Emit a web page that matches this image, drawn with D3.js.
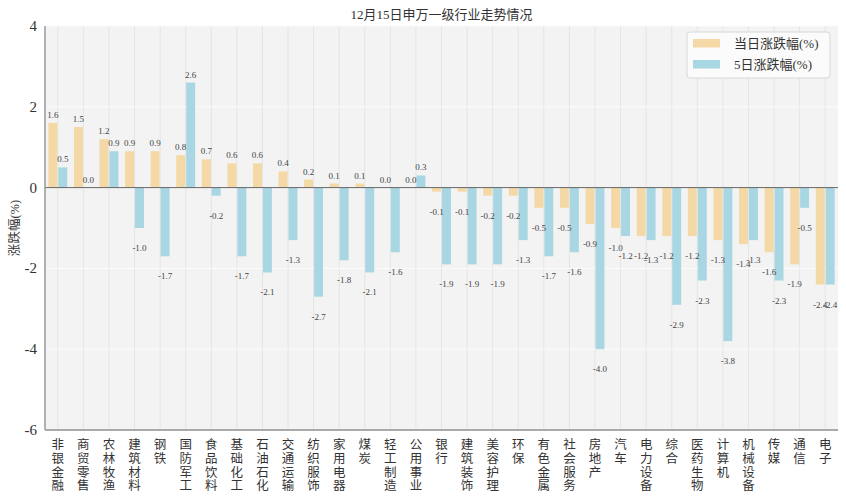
<!DOCTYPE html>
<html>
<head>
<meta charset="utf-8">
<script src="https://cdn.jsdelivr.net/npm/d3@7"></script>
<style>
  body { margin: 0; background: #fff; }
  svg { display: block; }
  text { font-family: "Liberation Serif", "Noto Sans CJK SC", serif; fill: #333; }
</style>
</head>
<body>
<svg id="chart" width="846" height="500"></svg>
<script>
const industries = ["非银金融", "商贸零售", "农林牧渔", "建筑材料", "钢铁", "国防军工", "食品饮料", "基础化工",
  "石油石化", "交通运输", "纺织服饰", "家用电器", "煤炭", "轻工制造", "公用事业", "银行", "建筑装饰", "美容护理",
  "环保", "有色金属", "社会服务", "房地产", "汽车", "电力设备", "综合", "医药生物", "计算机", "机械设备", "传媒",
  "通信", "电子"];

const dailyChange = [1.6, 1.5, 1.2, 0.9, 0.9, 0.8, 0.7, 0.6, 0.6, 0.4, 0.2, 0.1, 0.1, 0.0, 0.0, -0.1, -0.1, -0.2,
  -0.2, -0.5, -0.5, -0.9, -1.0, -1.2, -1.2, -1.2, -1.3, -1.4, -1.6, -1.9, -2.4];

const fiveDayChange = [0.5, 0.0, 0.9, -1.0, -1.7, 2.6, -0.2, -1.7, -2.1, -1.3, -2.7, -1.8, -2.1, -1.6, 0.3, -1.9,
  -1.9, -1.9, -1.3, -1.7, -1.6, -4.0, -1.2, -1.3, -2.9, -2.3, -3.8, -1.3, -2.3, -0.5, -2.4];

const yTicks = [4, 2, 0, -2, -4, -6];

const seriesNames = ["当日涨跌幅(%)", "5日涨跌幅(%)"];
const seriesColors = ["#f4d9a6", "#a8d6e3"];

const svg = d3.select("#chart");
const margin = { left: 45, right: 8, top: 26, bottom: 70 };
const width = 846, height = 500;

const x = d3.scaleBand().domain(industries).range([margin.left, width - margin.right]).padding(0);
const y = d3.scaleLinear().domain([-6, 4]).range([height - margin.bottom, margin.top]);
const barW = x.bandwidth() * 0.35;

// plot background
svg.append("rect")
  .attr("x", margin.left).attr("y", margin.top)
  .attr("width", width - margin.right - margin.left)
  .attr("height", y(-6) - y(4))
  .attr("fill", "#f3f3f3");

// vertical grid at categories
svg.append("g").selectAll("line")
  .data(industries)
  .join("line")
  .attr("x1", (d) => x(d) + x.bandwidth() / 2)
  .attr("x2", (d) => x(d) + x.bandwidth() / 2)
  .attr("y1", y(4)).attr("y2", y(-6))
  .attr("stroke", "#e4e4e4").attr("stroke-width", 1);

// horizontal grid
svg.append("g").selectAll("line")
  .data(yTicks)
  .join("line")
  .attr("x1", margin.left).attr("x2", width - margin.right)
  .attr("y1", (d) => y(d)).attr("y2", (d) => y(d))
  .attr("stroke", "#fbfbfb").attr("stroke-width", 1);

// bars
const rows = industries.map((name, i) => ({ name, daily: dailyChange[i], five: fiveDayChange[i] }));

const bars = svg.append("g");
bars.selectAll("rect.daily")
  .data(rows)
  .join("rect")
  .attr("class", "daily")
  .attr("x", (d) => x(d.name) + x.bandwidth() / 2 - barW - 0.5)
  .attr("width", barW)
  .attr("y", (d) => y(Math.max(0, d.daily)))
  .attr("height", (d) => Math.abs(y(d.daily) - y(0)))
  .attr("fill", seriesColors[0]);

bars.selectAll("rect.five")
  .data(rows)
  .join("rect")
  .attr("class", "five")
  .attr("x", (d) => x(d.name) + x.bandwidth() / 2 + 0.5)
  .attr("width", barW)
  .attr("y", (d) => y(Math.max(0, d.five)))
  .attr("height", (d) => Math.abs(y(d.five) - y(0)))
  .attr("fill", seriesColors[1]);

// zero line
svg.append("line")
  .attr("x1", margin.left).attr("x2", width - margin.right)
  .attr("y1", y(0)).attr("y2", y(0))
  .attr("stroke", "#666").attr("stroke-width", 1);

// value labels
const labelY = (v) => v >= 0 ? y(v) - 5 : y(v) + 23;
const labels = svg.append("g").attr("font-size", 9).attr("text-anchor", "middle");
labels.selectAll("text.daily")
  .data(rows)
  .join("text")
  .attr("x", (d) => x(d.name) + x.bandwidth() / 2 - barW / 2 - 0.5)
  .attr("y", (d) => labelY(d.daily))
  .style("fill", "#444")
  .text((d) => d.daily.toFixed(1));
labels.selectAll("text.five")
  .data(rows)
  .join("text")
  .attr("x", (d) => x(d.name) + x.bandwidth() / 2 + barW / 2 + 0.5)
  .attr("y", (d) => labelY(d.five))
  .style("fill", "#444")
  .text((d) => d.five.toFixed(1));

// axes lines
svg.append("line")
  .attr("x1", margin.left).attr("x2", margin.left)
  .attr("y1", y(4)).attr("y2", y(-6))
  .attr("stroke", "#999").attr("stroke-width", 1.5);
svg.append("line")
  .attr("x1", margin.left).attr("x2", width - margin.right)
  .attr("y1", y(-6)).attr("y2", y(-6))
  .attr("stroke", "#aaa").attr("stroke-width", 2);

// y tick labels
svg.append("g").selectAll("text")
  .data(yTicks)
  .join("text")
  .attr("x", margin.left - 8)
  .attr("y", (d) => y(d) + 5)
  .attr("text-anchor", "end")
  .attr("font-size", 15)
  .text((d) => d);

// x category labels, stacked vertically
const xl = svg.append("g").selectAll("text")
  .data(industries)
  .join("text")
  .attr("font-size", 12.5)
  .attr("text-anchor", "middle")
  .attr("font-family", "Noto Sans CJK SC");
xl.selectAll("tspan")
  .data((d) => Array.from(d).map((ch) => ({ ch, name: d })))
  .join("tspan")
  .attr("x", (d) => x(d.name) + x.bandwidth() / 2)
  .attr("y", (d, i) => 449 + i * 13.8)
  .text((d) => d.ch);

// y axis title
svg.append("text")
  .attr("transform", `translate(19,${(y(4) + y(-6)) / 2}) rotate(-90)`)
  .attr("text-anchor", "middle")
  .attr("font-size", 12.5)
  .text("涨跌幅(%)");

// title
svg.append("text")
  .attr("x", (margin.left + width - margin.right) / 2)
  .attr("y", 19)
  .attr("text-anchor", "middle")
  .attr("font-size", 13)
  .text("12月15日申万一级行业走势情况");

// legend
const lg = svg.append("g");
lg.append("rect")
  .attr("x", 687).attr("y", 32).attr("width", 143).attr("height", 46)
  .attr("rx", 3)
  .attr("fill", "#fbfbfb").attr("stroke", "#d8d8d8");
seriesNames.forEach((name, i) => {
  lg.append("rect")
    .attr("x", 693).attr("y", 39 + i * 21).attr("width", 27).attr("height", 8.5)
    .attr("fill", seriesColors[i]);
  lg.append("text")
    .attr("x", 734).attr("y", 48 + i * 21)
    .attr("font-size", 13)
    .text(name);
});
</script>
</body>
</html>
